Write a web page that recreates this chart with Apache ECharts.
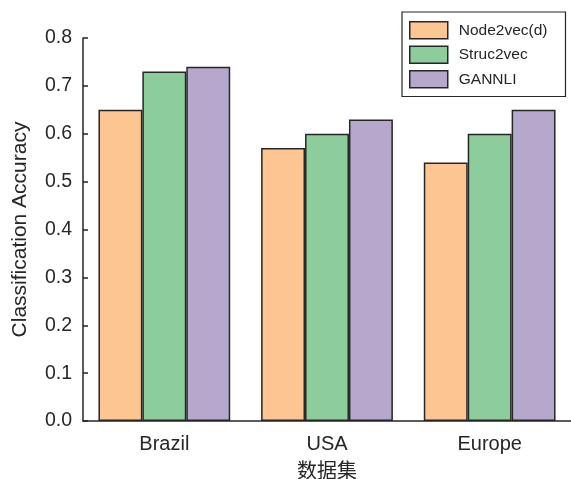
<!DOCTYPE html>
<html>
<head>
<meta charset="utf-8">
<script src="https://cdn.jsdelivr.net/npm/echarts@6/dist/echarts.min.js"></script>
<style>
  html, body { margin: 0; padding: 0; background: #fff; }
  #chart { width: 571px; height: 479px; }
</style>
</head>
<body>
<div id="chart"></div>
<script>
// Datasets on the x axis
const categories = ['Brazil', 'USA', 'Europe'];
// Classification accuracy per method
const node2vecD = [0.65, 0.57, 0.54];
const struc2vec = [0.73, 0.60, 0.60];
const gannli = [0.74, 0.63, 0.65];
const seriesNames = ['Node2vec(d)', 'Struc2vec', 'GANNLI'];
const seriesColors = ['#fcc592', '#8dcd9b', '#b6a7cd'];
const yTicks = [0, 0.1, 0.2, 0.3, 0.4, 0.5, 0.6, 0.7, 0.8];

const font = 'Liberation Sans, Arial, Helvetica, sans-serif';
const ink = '#262626';

const chart = echarts.init(document.getElementById('chart'), null, { renderer: 'canvas' });

const makeBar = (name, data, color) => ({
  name: name,
  type: 'bar',
  data: data,
  barGap: '0%',
  barCategoryGap: '19%',
  itemStyle: { color: color, borderColor: ink, borderWidth: 1.5 }
});

chart.setOption({
  animation: false,
  backgroundColor: '#ffffff',
  grid: { left: 83, right: 0, top: 38, bottom: 58, containLabel: false, outerBoundsMode: 'none' },
  legend: {
    orient: 'vertical',
    left: 402,
    top: 12,
    padding: [9, 18, 8, 7],
    itemGap: 6,
    itemWidth: 38,
    itemHeight: 17,
    icon: 'rect',
    borderColor: ink,
    borderWidth: 1.2,
    itemStyle: { borderColor: ink, borderWidth: 1.5 },
    textStyle: { fontFamily: font, fontSize: 15.5, color: ink, padding: [0, 0, 0, 6] },
    data: seriesNames
  },
  xAxis: {
    type: 'category',
    data: categories,
    name: '数据集',
    nameLocation: 'middle',
    nameGap: 39,
    nameTextStyle: { fontFamily: 'Noto Sans CJK SC', fontSize: 20, color: ink },
    axisLine: { lineStyle: { color: ink, width: 1.5 } },
    axisTick: { show: true, alignWithLabel: true, inside: true, length: 4, lineStyle: { color: ink, width: 1.2 } },
    axisLabel: { fontFamily: font, fontSize: 20, color: ink, margin: 13 }
  },
  yAxis: {
    type: 'value',
    min: 0,
    max: 0.8,
    interval: 0.1,
    name: 'Classification Accuracy',
    nameLocation: 'middle',
    nameGap: 52,
    nameTextStyle: { fontFamily: font, fontSize: 21, color: ink },
    axisLine: { show: true, lineStyle: { color: ink, width: 1.5 } },
    axisTick: { show: true, inside: true, length: 5, lineStyle: { color: ink, width: 1.5 } },
    axisLabel: {
      fontFamily: font, fontSize: 19.5, color: ink, margin: 11,
      formatter: v => {
        const t = yTicks.find(k => Math.abs(k - v) < 1e-9);
        return t === undefined ? '' : t.toFixed(1);
      }
    },
    splitLine: { show: false }
  },
  series: [
    makeBar(seriesNames[0], node2vecD, seriesColors[0]),
    makeBar(seriesNames[1], struc2vec, seriesColors[1]),
    makeBar(seriesNames[2], gannli, seriesColors[2])
  ]
});
</script>
</body>
</html>
